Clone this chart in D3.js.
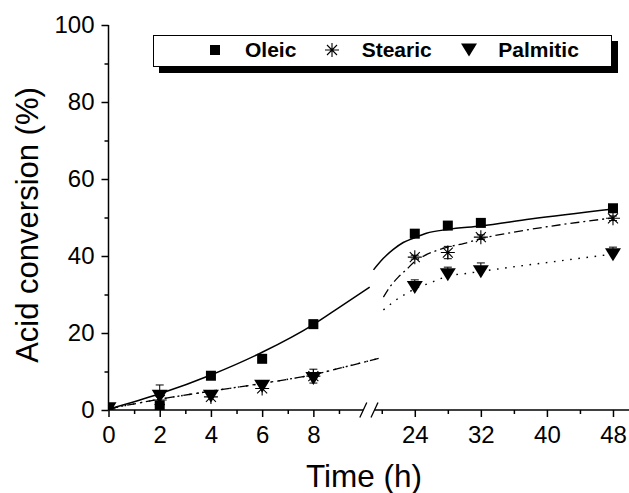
<!DOCTYPE html>
<html><head><meta charset="utf-8">
<script src="https://cdn.jsdelivr.net/npm/d3@7"></script>
<style>
html,body{margin:0;padding:0;background:#fff;}
svg{display:block;font-family:"Liberation Sans",Arial,sans-serif;}
</style></head>
<body><svg id="c" width="629" height="493"></svg>
<script>
// ---------- data ----------
const seriesNames = ["Oleic", "Stearic", "Palmitic"];
const times    = [0, 2, 4, 6, 8, 24, 28, 32, 48];
const oleic    = [0.3, 1.2, 8.9, 13.3, 22.3, 45.8, 47.9, 48.6, 52.4];
const stearic  = [0.3, 2.6, 3.4, 5.6, 8.8, 39.7, 40.9, 44.9, 49.8];
const palmitic = [0.3, 3.6, 3.6, 6.2, 8.2, 31.8, 35.1, 35.9, 40.3];
const oleicErr    = [0, 0, 0, 0, 0, 0, 0, 0, 0];
const stearicErr  = [0, 0, 0, 0, 1.8, 0.5, 1.6, 0.6, 0.6];
const palmiticErr = [0, 2.9, 0, 0, 0, 2.0, 2.0, 2.3, 2.0];

// fitted curves (time, %)
const oleicFitLeft    = [[0,0.2],[2,4.2],[4,9.1],[6,15.0],[8,22.2],[9,26.6],[10.2,31.9]];
const oleicFitRight   = [[19,36.4],[20.2,39.4],[21.4,41.7],[22.6,43.5],[23.8,44.6],[25.4,45.9],[28,46.9],[32,47.8],[38,49.6],[48,52.2]];
const stearicFitLeft  = [[0,0.3],[2,2.8],[4,4.9],[6,6.9],[8,9.2],[9.3,11.3],[10.67,13.6]];
const stearicFitRight = [[20.2,29.3],[21,32.0],[22,34.5],[23,36.5],[24,38.6],[25,39.9],[26.6,41.4],[28,42.3],[30,43.3],[32,44.5],[36,46.2],[40,47.6],[44,48.8],[48,49.9]];
const palmiticFitLeft = [[0,0.3],[2,2.8],[4,4.9],[6,6.9],[8,9.2],[9.3,11.3],[10.67,13.6]];
const palmiticFitRight= [[20.2,26.0],[21.2,27.7],[22.2,29.3],[23.2,30.5],[24,31.5],[25.2,32.5],[26.2,33.3],[28,34.8],[30,35.4],[32,36.0],[36,37.2],[40,38.3],[44,39.4],[48,40.5]];

const xTicksLeftMajor  = [0, 2, 4, 6, 8];
const xTicksLeftMinor  = [1, 3, 5, 7, 9];
const xTicksRightMajor = [24, 32, 40, 48];
const xTicksRightMinor = [20, 28, 36, 44];
const yTicksMajor = [0, 20, 40, 60, 80, 100];
const yTicksMinor = [10, 30, 50, 70, 90];
const xTitle = "Time (h)";
const yTitle = "Acid conversion (%)";

// ---------- layout ----------
const svg = d3.select("#c");
const x0 = 108.5, yBot = 410, yTop = 25;
const xL = d3.scaleLinear().domain([0, 10.7]).range([x0, 382.5]);
const xR = d3.scaleLinear().domain([19, 50]).range([373.5, 629.5]);
const y = d3.scaleLinear().domain([0, 100]).range([yBot, yTop]);
const xPos = t => (t <= 10.7 ? xL(t) : xR(t));

svg.append("defs").append("clipPath").attr("id","clip")
  .append("rect").attr("x", x0).attr("y", 0).attr("width", 629 - x0).attr("height", yBot);

// ---------- axes ----------
function styleAxis(g){
  g.select(".domain").remove();
  g.selectAll("line").attr("stroke","#000").attr("stroke-width",1.5);
  g.selectAll("text").attr("fill","#000").style("font-size","24px").style("font-family",'"Liberation Sans",Arial,sans-serif');
}
// y axis
svg.append("g").attr("transform",`translate(${x0},0)`)
  .call(d3.axisLeft(y).tickValues(yTicksMajor).tickSize(7).tickPadding(7).tickFormat(d3.format("d")))
  .call(styleAxis);
svg.append("g").attr("transform",`translate(${x0},0)`)
  .call(d3.axisLeft(y).tickValues(yTicksMinor).tickSize(4).tickFormat(""))
  .call(styleAxis);
svg.append("line").attr("x1",x0).attr("x2",x0).attr("y1",yTop).attr("y2",yBot)
  .attr("stroke","#000").attr("stroke-width",1.5);

// x axes (two segments with a break)
[[xL, xTicksLeftMajor, xTicksLeftMinor],[xR, xTicksRightMajor, xTicksRightMinor]].forEach(([sc, maj, mn])=>{
  svg.append("g").attr("transform",`translate(0,${yBot})`)
    .call(d3.axisBottom(sc).tickValues(maj).tickSize(7).tickPadding(9).tickFormat(d3.format("d")))
    .call(styleAxis);
  svg.append("g").attr("transform",`translate(0,${yBot})`)
    .call(d3.axisBottom(sc).tickValues(mn).tickSize(4).tickFormat(""))
    .call(styleAxis);
});
const b1 = 363.3, b2 = 374.5;
svg.append("line").attr("x1",x0).attr("x2",b1).attr("y1",yBot).attr("y2",yBot).attr("stroke","#000").attr("stroke-width",1.5);
svg.append("line").attr("x1",b2).attr("x2",629).attr("y1",yBot).attr("y2",yBot).attr("stroke","#000").attr("stroke-width",1.5);
[b1, b2].forEach(bx=>{
  svg.append("line").attr("x1",bx-3.5).attr("y1",yBot+7.5).attr("x2",bx+3.5).attr("y2",yBot-7.5)
    .attr("stroke","#000").attr("stroke-width",1.3);
});

// titles
svg.append("text").attr("x",364).attr("y",487).attr("text-anchor","middle")
  .style("font-size","31.5px").attr("fill","#000").text(xTitle);
svg.append("text").attr("transform","translate(37.5,225) rotate(-90)").attr("text-anchor","middle")
  .style("font-size","31px").attr("fill","#000").text(yTitle);

// ---------- curves ----------
const plot = svg.append("g").attr("clip-path","url(#clip)");
const line = d3.line().x(d=>xPos(d[0])).y(d=>y(d[1])).curve(d3.curveMonotoneX);
const curveStyles = [
  {dash:null, w:1.5},
  {dash:"9,4,2,4", w:1.3},
  {dash:"1.6,6.6", w:1.4}
];
[[oleicFitLeft, oleicFitRight],[stearicFitLeft, stearicFitRight],[palmiticFitLeft, palmiticFitRight]].forEach((pair,i)=>{
  pair.forEach(pts=>{
    plot.append("path").attr("d", line(pts)).attr("fill","none").attr("stroke","#000")
      .attr("stroke-width", curveStyles[i].w).attr("stroke-dasharray", curveStyles[i].dash);
  });
});

// ---------- markers ----------
function drawMarker(g, kind, cx, cy){
  if(kind===0){
    g.append("rect").attr("x",cx-5).attr("y",cy-5).attr("width",10).attr("height",10).attr("fill","#000");
  } else if(kind===1){
    const r = 7, d = 5;
    const p = `M${cx},${cy-r}L${cx},${cy+r}M${cx-r},${cy}L${cx+r},${cy}M${cx-d},${cy-d}L${cx+d},${cy+d}M${cx-d},${cy+d}L${cx+d},${cy-d}`;
    g.append("path").attr("d",p).attr("stroke","#000").attr("stroke-width",1.1).attr("fill","none");
  } else {
    g.append("path").attr("d",`M${cx-8},${cy-6.5}L${cx+8},${cy-6.5}L${cx},${cy+6.5}Z`).attr("fill","#000");
  }
}
const seriesVals = [oleic, stearic, palmitic];
const seriesErr = [oleicErr, stearicErr, palmiticErr];
const upperOnly = [false, false, true];
seriesVals.forEach((vals,i)=>{
  const g = plot.append("g");
  vals.forEach((v,j)=>{
    const e = seriesErr[i][j];
    const cx = xPos(times[j]);
    if(e>0){
      const lo = upperOnly[i] ? v : v-e;
      g.append("line").attr("x1",cx).attr("x2",cx).attr("y1",y(lo)).attr("y2",y(v+e)).attr("stroke","#000").attr("stroke-width",1);
      const caps = upperOnly[i] ? [v+e] : [v-e, v+e];
      caps.forEach(w=>g.append("line").attr("x1",cx-4).attr("x2",cx+4).attr("y1",y(w)).attr("y2",y(w)).attr("stroke","#000").attr("stroke-width",1));
    }
    drawMarker(g, i, cx, y(v));
  });
});

// ---------- legend ----------
const lg = svg.append("g");
lg.append("rect").attr("x",159).attr("y",41).attr("width",459).attr("height",32).attr("fill","#000");
lg.append("rect").attr("x",153.5).attr("y",35.5).attr("width",458).attr("height",31).attr("fill","#fff").attr("stroke","#000").attr("stroke-width",1);
const legendX = [[215,245],[332,361.7],[469,498.3]];
seriesNames.forEach((n,i)=>{
  drawMarker(lg, i, legendX[i][0], 50);
  lg.append("text").attr("x",legendX[i][1]).attr("y",56.8).style("font-size","21px").style("font-weight","bold")
    .attr("fill","#000").text(n);
});
</script></body></html>
